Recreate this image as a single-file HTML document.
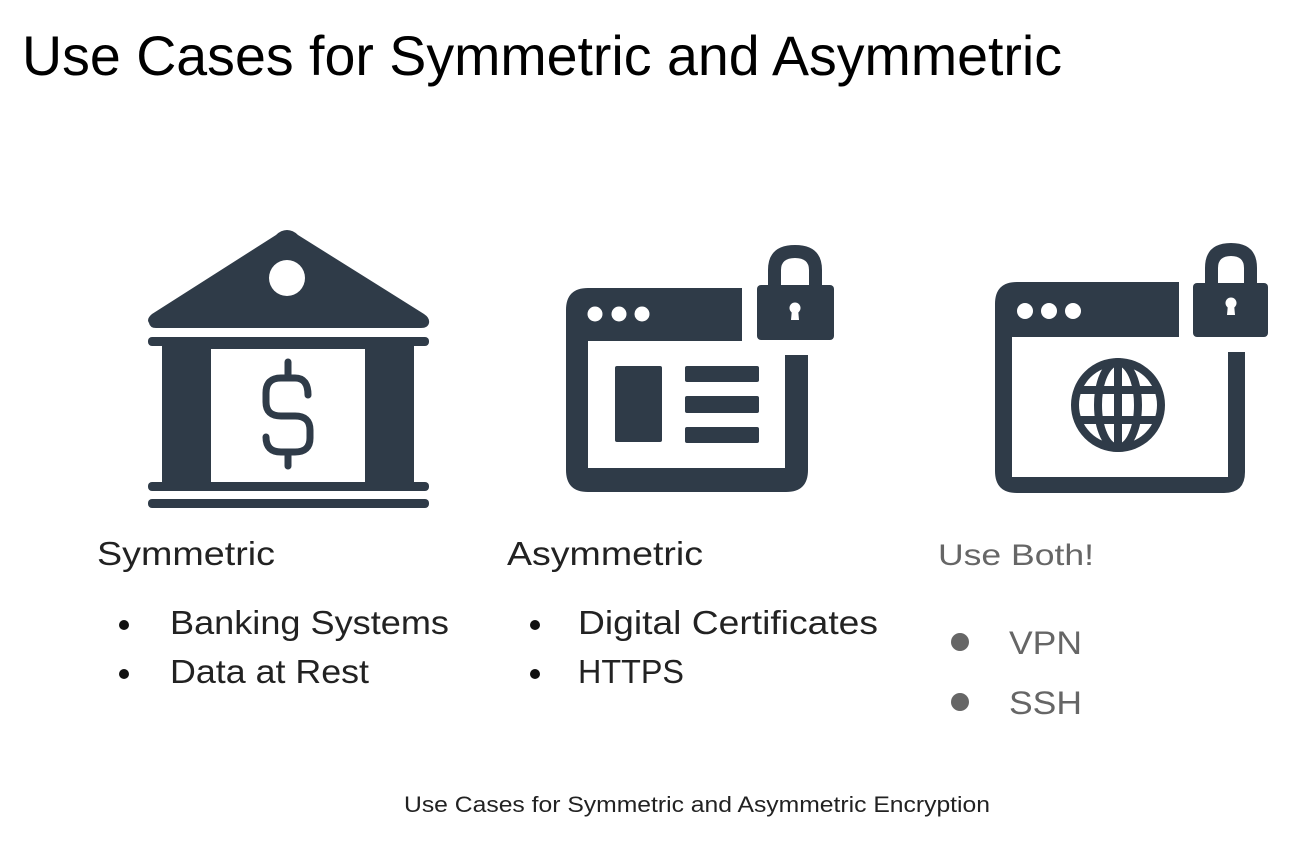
<!DOCTYPE html>
<html><head><meta charset="utf-8"><style>
html,body{margin:0;padding:0;background:#fff;width:1295px;height:842px;overflow:hidden}
svg{display:block}
</style></head><body>
<svg width="1295" height="842" viewBox="0 0 1295 842" xmlns="http://www.w3.org/2000/svg" font-family="Liberation Sans, sans-serif">
<rect width="1295" height="842" fill="#fff"/>
<text x="22" y="75" font-size="56" fill="#000" textLength="1040" lengthAdjust="spacingAndGlyphs">Use Cases for Symmetric and Asymmetric</text>

<g fill="#2f3b48">
<!-- bank -->
<path d="M287 230 Q281 230 276 235 L152 314 Q146 319 149 323 Q150 328 156 328 L421 328 Q428 328 429 323 Q430 318 424 314 L298 235 Q293 230 287 230 Z"/>
<rect x="148" y="337" width="281" height="9" rx="4"/>
<rect x="162" y="346" width="49" height="136"/>
<rect x="365" y="346" width="49" height="136"/>
<rect x="211" y="346" width="154" height="3"/>
<rect x="148" y="482" width="281" height="9" rx="4"/>
<rect x="148" y="499" width="281" height="9" rx="4"/>
</g>
<circle cx="287" cy="278" r="18" fill="#fff"/>
<g fill="none" stroke="#2f3b48" stroke-width="7" stroke-linecap="round">
<path d="M288 362 L288 378"/>
<path d="M288 452 L288 466"/>
<path d="M308 395 Q308 378 295 378 L281 378 Q266 378 266 393 L266 402 Q266 416 281 416 L295 416 Q310 416 310 430 L310 438 Q310 452 295 452 L281 452 Q266 452 266 437"/>
</g>

<!-- browser 1 -->
<g fill="#2f3b48">
<path d="M566 310 Q566 288 588 288 L742 288 L742 341 L588 341 L588 468 L785 468 L785 355 L808 355 L808 470 Q808 492 786 492 L588 492 Q566 492 566 470 Z"/>
<rect x="757" y="285" width="77" height="55" rx="4"/>
<path d="M768 290 L768 270 Q768 245 795 245 Q822 245 822 270 L822 290 L809 290 L809 270 Q809 258 795 258 Q781 258 781 270 L781 290 Z"/>
<rect x="615" y="366" width="47" height="76" rx="2"/>
<rect x="685" y="366" width="74" height="16" rx="2"/>
<rect x="685" y="396" width="74" height="17" rx="2"/>
<rect x="685" y="427" width="74" height="16" rx="2"/>
</g>
<g fill="#fff">
<circle cx="595" cy="314" r="7.5"/><circle cx="619" cy="314" r="7.5"/><circle cx="642" cy="314" r="7.5"/>
<circle cx="795" cy="308" r="5.5"/><path d="M792 309 L798 309 L799 320 L791 320 Z"/>
</g>

<!-- browser 2 -->
<g fill="#2f3b48">
<path d="M995 304 Q995 282 1017 282 L1179 282 L1179 337 L1012 337 L1012 477 L1228 477 L1228 352 L1245 352 L1245 472 Q1245 493 1224 493 L1017 493 Q995 493 995 471 Z"/>
<rect x="1193" y="283" width="75" height="54" rx="4"/>
<path d="M1205 290 L1205 268 Q1205 243 1231 243 Q1257 243 1257 268 L1257 290 L1244 290 L1244 268 Q1244 256 1231 256 Q1218 256 1218 268 L1218 290 Z"/>
</g>
<g fill="#fff">
<circle cx="1025" cy="311" r="8"/><circle cx="1049" cy="311" r="8"/><circle cx="1073" cy="311" r="8"/>
<circle cx="1231" cy="303" r="5.5"/><path d="M1228 304 L1234 304 L1235 315 L1227 315 Z"/>
</g>
<g fill="none" stroke="#2f3b48" stroke-width="8">
<circle cx="1118" cy="405" r="43"/>
<ellipse cx="1118" cy="405" rx="20" ry="43"/>
<line x1="1118" y1="362" x2="1118" y2="448"/>
<line x1="1075" y1="390" x2="1161" y2="390"/>
<line x1="1075" y1="420" x2="1161" y2="420"/>
</g>

<!-- text -->
<g fill="#222" font-size="33">
<text x="97" y="565" textLength="178" lengthAdjust="spacingAndGlyphs">Symmetric</text>
<text x="170" y="634" textLength="279" lengthAdjust="spacingAndGlyphs">Banking Systems</text>
<text x="170" y="683" textLength="199" lengthAdjust="spacingAndGlyphs">Data at Rest</text>
<text x="507" y="565" textLength="196" lengthAdjust="spacingAndGlyphs">Asymmetric</text>
<text x="578" y="634" textLength="300" lengthAdjust="spacingAndGlyphs">Digital Certificates</text>
<text x="578" y="683" textLength="106" lengthAdjust="spacingAndGlyphs">HTTPS</text>
</g>
<g fill="#111">
<circle cx="124" cy="625" r="5"/><circle cx="124" cy="674" r="5"/>
<circle cx="535" cy="625" r="5"/><circle cx="535" cy="674" r="5"/>
</g>
<g fill="#666">
<text x="938" y="565" font-size="30" textLength="156" lengthAdjust="spacingAndGlyphs">Use Both!</text>
<circle cx="960" cy="642" r="9"/><circle cx="960" cy="702" r="9"/>
<text x="1009" y="654" font-size="32" textLength="73" lengthAdjust="spacingAndGlyphs">VPN</text>
<text x="1009" y="714" font-size="32" textLength="73" lengthAdjust="spacingAndGlyphs">SSH</text>
</g>
<text x="404" y="812" font-size="22" fill="#222" textLength="586" lengthAdjust="spacingAndGlyphs">Use Cases for Symmetric and Asymmetric Encryption</text>
</svg>
</body></html>
